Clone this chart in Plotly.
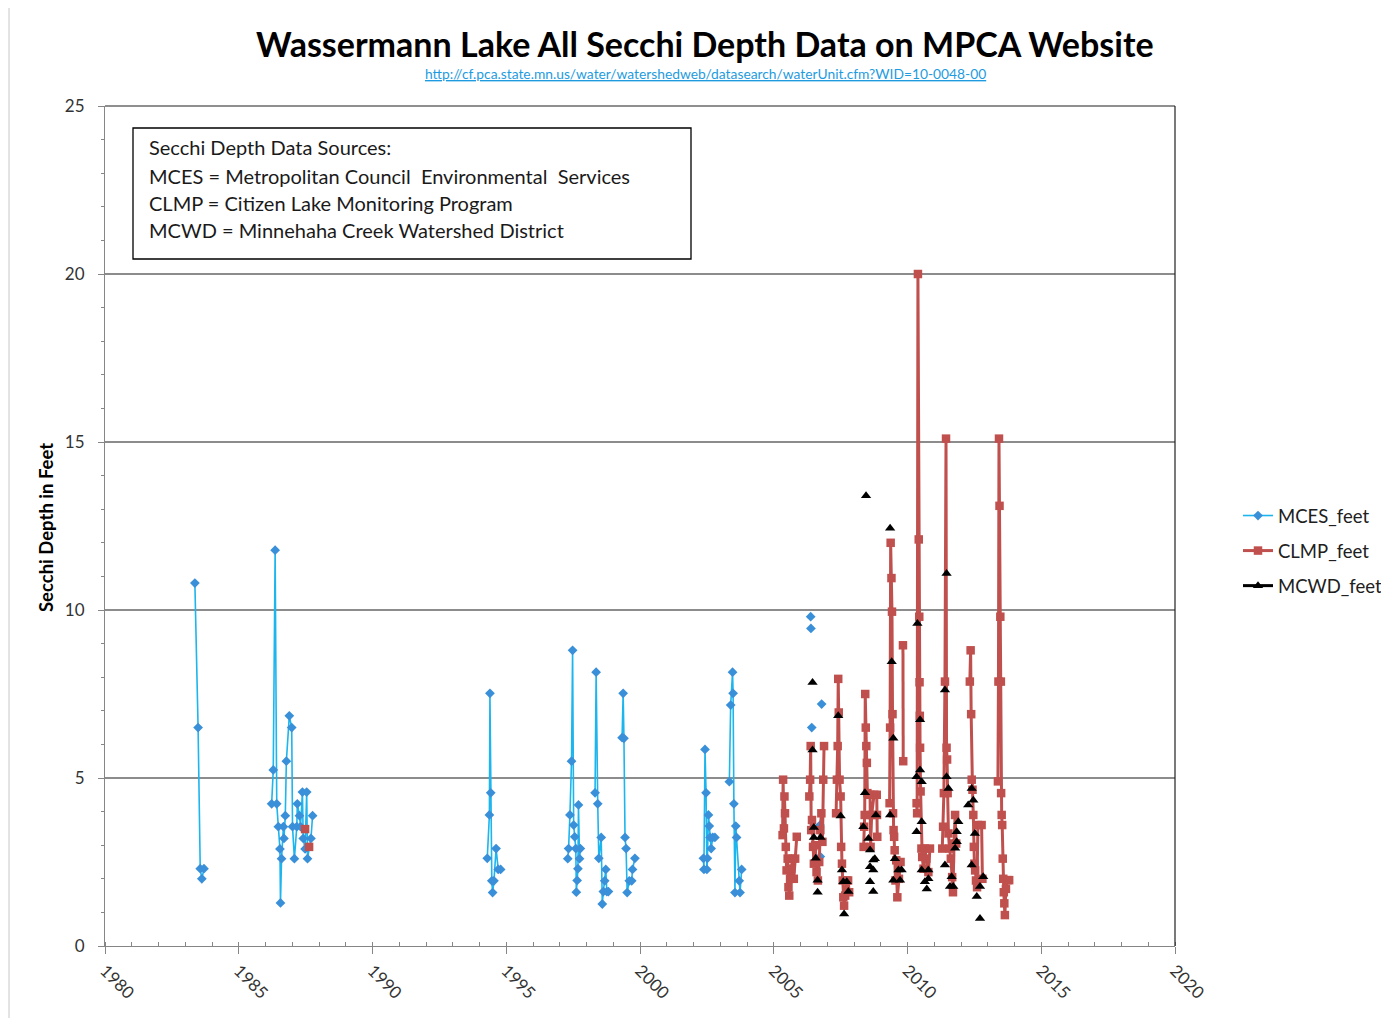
import plotly.graph_objects as go

# ---------------- data (decimal years, Secchi depth in feet) ----------------
# None marks a break in the series (blank rows in the source sheet)
mces_year = [
    1983.36, 1983.48, 1983.56, 1983.62, 1983.70, None,
    1986.23, 1986.29, 1986.36, 1986.42, 1986.48, 1986.54, 1986.56, 1986.60, 1986.67, 1986.69,
    1986.74, 1986.78, 1986.89, 1986.98, 1987.01, 1987.08, 1987.17, 1987.19, 1987.27, 1987.31,
    1987.38, 1987.41, 1987.48, 1987.54, 1987.57, 1987.70, 1987.76, None,
    1994.29, 1994.37, 1994.39, 1994.42, 1994.46, 1994.49, 1994.54, 1994.62, 1994.70, 1994.79, None,
    1997.30, 1997.33, 1997.38, 1997.44, 1997.48, 1997.52, 1997.56, 1997.60, 1997.62, 1997.65,
    1997.68, 1997.70, 1997.74, 1997.77, None,
    1998.32, 1998.36, 1998.42, 1998.46, 1998.55, 1998.59, 1998.63, 1998.68, 1998.72, 1998.76, 1998.82, None,
    1999.33, 1999.37, 1999.40, 1999.44, 1999.48, 1999.52, 1999.60, 1999.69, 1999.72, 1999.81, None,
    2002.37, 2002.39, 2002.43, 2002.47, 2002.50, 2002.52, 2002.56, 2002.59, 2002.62, 2002.66, 2002.72, 2002.80, None,
    2003.34, 2003.39, 2003.46, 2003.48, 2003.51, 2003.55, 2003.58, 2003.61, 2003.71, 2003.74, 2003.80, None,
    2006.38, None, 2006.39, None, 2006.42, None, 2006.79, None, 2006.73, None, 2006.74,
]
mces_depth = [
    10.8, 6.5, 2.3, 2.0, 2.3, None,
    4.23, 5.24, 11.78, 4.23, 3.55, 2.89, 1.28, 2.6, 3.55, 3.2,
    3.88, 5.5, 6.85, 6.5, 3.55, 2.6, 3.55, 4.23, 3.88, 3.55,
    4.58, 3.2, 2.89, 4.58, 2.6, 3.2, 3.88, None,
    2.61, 3.9, 7.52, 4.56, 1.94, 1.59, 1.94, 2.9, 2.28, 2.28, None,
    2.6, 2.9, 3.9, 5.5, 8.8, 3.6, 3.25, 2.9, 1.6, 1.95,
    2.3, 4.2, 2.6, 2.9, None,
    4.56, 8.15, 4.23, 2.61, 3.23, 1.25, 1.62, 1.94, 2.28, 1.62, 1.62, None,
    6.2, 7.52, 6.18, 3.23, 2.9, 1.59, 1.94, 1.94, 2.28, 2.61, None,
    2.61, 2.28, 5.85, 4.56, 2.28, 2.61, 3.9, 3.57, 3.23, 2.9, 3.23, 3.23, None,
    4.89, 7.17, 8.15, 7.52, 4.23, 1.59, 3.57, 3.23, 1.94, 1.59, 2.28, None,
    9.8, None, 9.45, None, 6.5, None, 7.2, None, 3.6, None, 2.66,
]

clmp_year = [
    1987.48, None, 1987.63, None,
    2005.33, 2005.35, 2005.38, 2005.40, 2005.42, 2005.45, 2005.48, 2005.52, 2005.55, 2005.58,
    2005.61, 2005.65, 2005.70, 2005.75, 2005.80, 2005.86, None,
    2006.33, 2006.36, 2006.38, 2006.40, 2006.43, 2006.47, 2006.50, 2006.55, 2006.60, 2006.65,
    2006.70, 2006.74, 2006.78, 2006.82, 2006.85, 2006.88, None,
    2007.33, 2007.36, 2007.39, 2007.41, 2007.43, 2007.46, 2007.50, 2007.52, 2007.55, 2007.58,
    2007.60, 2007.63, 2007.67, 2007.72, 2007.78, 2007.82, None,
    2008.36, 2008.38, 2008.40, 2008.42, 2008.44, 2008.46, 2008.48, 2008.50, 2008.60, 2008.62,
    2008.66, 2008.75, 2008.85, 2008.86, 2008.87, None,
    2009.33, 2009.35, 2009.37, 2009.40, 2009.42, 2009.44, 2009.46, 2009.48, 2009.50, 2009.52,
    2009.55, 2009.58, 2009.62, 2009.68, 2009.74, None, 2009.83, 2009.84, None,
    2010.34, 2010.36, 2010.39, 2010.42, 2010.44, 2010.45, 2010.46, 2010.47, 2010.49, 2010.52,
    2010.55, 2010.60, 2010.65, 2010.70, 2010.78, 2010.84, None,
    2011.30, 2011.33, 2011.36, 2011.40, 2011.44, 2011.46, 2011.48, 2011.50, 2011.53, 2011.57,
    2011.62, 2011.67, 2011.70, 2011.74, 2011.78, 2011.82, None,
    2012.33, 2012.36, 2012.38, 2012.40, 2012.43, 2012.46, 2012.48, 2012.50, 2012.53, 2012.56,
    2012.60, 2012.63, 2012.77, 2012.80, None,
    2013.38, 2013.40, 2013.42, 2013.44, 2013.47, 2013.49, 2013.50, 2013.52, 2013.54, 2013.56,
    2013.58, 2013.60, 2013.62, 2013.64, 2013.68, 2013.74, 2013.80,
]
clmp_depth = [
    3.48, None, 2.95, None,
    3.3, 4.95, 3.5, 4.45, 3.95, 2.95, 2.25, 2.6, 1.75, 1.5,
    2.0, 2.3, 2.6, 2.0, 2.6, 3.25, None,
    4.45, 4.95, 5.95, 3.45, 3.75, 2.95, 2.45, 3.0, 2.2, 1.95,
    2.5, 3.45, 3.95, 3.1, 4.95, 5.95, None,
    3.95, 4.95, 5.95, 7.95, 6.95, 4.95, 4.45, 2.95, 2.45, 1.95,
    1.45, 1.2, 1.5, 1.95, 1.95, 1.6, None,
    2.95, 3.55, 3.9, 7.5, 6.5, 5.95, 5.45, 4.55, 4.5, 2.95,
    3.9, 4.5, 4.5, 3.9, 3.25, None,
    4.25, 6.5, 12.0, 10.95, 9.95, 6.9, 3.95, 3.45, 3.25, 2.85,
    1.95, 2.55, 1.45, 2.0, 2.5, None, 8.95, 5.5, None,
    4.25, 3.95, 20.0, 12.1, 9.8, 7.85, 6.85, 5.9, 4.6, 2.9,
    2.65, 2.3, 2.9, 2.6, 2.2, 2.9, None,
    2.9, 3.55, 4.55, 7.87, 15.1, 5.9, 5.55, 4.55, 3.35, 2.9,
    2.6, 2.05, 1.6, 3.05, 3.9, 3.05, None,
    7.87, 8.8, 6.9, 4.95, 4.65, 3.9, 2.95, 2.45, 2.25, 1.95,
    1.75, 3.6, 3.6, 2.0, None,
    4.9, 7.87, 15.1, 13.1, 9.8, 7.87, 4.55, 3.9, 3.6, 2.6,
    2.0, 1.6, 1.27, 0.92, 1.7, 1.96, 1.96,
]

mcwd_year = [
    2006.45, 2006.45, 2006.50, 2006.50, 2006.75, 2006.57, 2006.64, 2006.64,
    2007.41, 2007.50, 2007.55, 2007.60, 2007.73, 2007.79, 2007.63,
    2008.45, 2008.35, 2008.41, 2008.82, 2008.54, 2008.60, 2008.72, 2008.78, 2008.60, 2008.72, 2008.60, 2008.72,
    2009.35, 2009.41, 2009.47, 2009.35, 2009.53, 2009.66, 2009.78, 2009.47, 2009.72,
    2010.37, 2010.47, 2010.47, 2010.34, 2010.53, 2010.53, 2010.34, 2010.53, 2010.78, 2010.65, 2010.72, 2010.78,
    2011.46, 2011.40, 2011.46, 2011.53, 2011.90, 2011.84, 2011.84, 2011.78, 2011.40, 2011.65, 2011.71, 2011.59,
    2012.40, 2012.46, 2012.27, 2012.52, 2012.40, 2012.83, 2012.71, 2012.59, 2012.71,
]
mcwd_depth = [
    7.84, 5.83, 3.53, 3.23, 3.23, 2.61, 1.96, 1.6,
    6.85, 3.87, 2.26, 1.91, 1.91, 1.62, 0.95,
    13.4, 3.55, 4.56, 3.9, 3.2, 2.86, 2.56, 2.6, 2.36, 2.26, 1.91, 1.62,
    12.43, 8.46, 6.18, 3.9, 2.6, 2.26, 2.26, 1.96, 1.96,
    9.6, 6.73, 5.24, 5.04, 4.89, 3.7, 3.4, 2.26, 2.26, 1.91, 1.7, 2.0,
    11.09, 7.62, 5.04, 4.69, 3.7, 3.4, 3.1, 2.91, 2.41, 2.06, 1.77, 1.77,
    4.69, 4.34, 4.2, 3.35, 2.41, 2.06, 1.77, 1.47, 0.82,
]

x_ticks = [1980, 1985, 1990, 1995, 2000, 2005, 2010, 2015, 2020]
y_ticks = [0, 5, 10, 15, 20, 25]

title_text = "Wassermann Lake All Secchi Depth Data on MPCA Website"
url_text = "http://cf.pca.state.mn.us/water/watershedweb/datasearch/waterUnit.cfm?WID=10-0048-00"
box_lines = [
    "Secchi Depth Data Sources:",
    "MCES = Metropolitan Council  Environmental  Services",
    "CLMP = Citizen Lake Monitoring Program",
    "MCWD = Minnehaha Creek Watershed District",
]

# MCWD points are isolated (no connecting lines) -> interleave breaks
mcwd_x, mcwd_y = [], []
for xv, yv in zip(mcwd_year, mcwd_depth):
    mcwd_x += [xv, None]
    mcwd_y += [yv, None]

FONT = "Lato, Calibri, Carlito, sans-serif"

fig = go.Figure()
fig.add_trace(go.Scatter(
    x=mces_year, y=mces_depth, name="MCES_feet", mode="lines+markers",
    line=dict(color="#1CB5EE", width=1.6),
    marker=dict(symbol="diamond", size=7.5, color="#3A8FD9"),
    legendgroup="a", connectgaps=False))
fig.add_trace(go.Scatter(
    x=clmp_year, y=clmp_depth, name="CLMP_feet", mode="lines+markers",
    line=dict(color="#C0504D", width=3),
    marker=dict(symbol="square", size=8.5, color="#C0504D"),
    legendgroup="b", connectgaps=False))
fig.add_trace(go.Scatter(
    x=mcwd_x, y=mcwd_y, name="MCWD_feet", mode="lines+markers",
    line=dict(color="#000000", width=3),
    marker=dict(symbol="triangle-up", size=9, color="#000000"),
    legendgroup="c", connectgaps=False))

OFF = 8  # page body margin
W, H = 1389 - OFF, 1018 - OFF
L, R, T, B = 105 - OFF, 1175 - OFF, 106 - OFF, 946 - OFF
def px(xp):
    return (xp - OFF - L) / (R - L)
def py(yp):
    return (B - (yp - OFF)) / (B - T)
def cx(xp):
    return (xp - OFF) / W
def cy(yp):
    return 1 - (yp - OFF) / H

annotations = [
    dict(text="<b>" + title_text + "</b>", x=px(705), y=py(43), xref="paper", yref="paper",
         showarrow=False, xanchor="center", yanchor="middle",
         font=dict(family=FONT, size=34, color="#000000")),
    dict(text="<u>" + url_text + "</u>", x=px(705), y=py(74), xref="paper", yref="paper",
         showarrow=False, xanchor="center", yanchor="middle",
         font=dict(family=FONT, size=13.8, color="#1E9BE0")),
    dict(text="<b>Secchi Depth in Feet</b>", x=px(46), y=py(528), xref="paper", yref="paper",
         showarrow=False, xanchor="center", yanchor="middle", textangle=-90,
         font=dict(family=FONT, size=18.5, color="#000000")),
]
for line, ypix in zip(box_lines, [147, 176, 203, 230]):
    annotations.append(dict(text=line, x=px(147), y=py(ypix), xref="paper", yref="paper",
                            showarrow=False, xanchor="left", yanchor="middle",
                            font=dict(family=FONT, size=20, color="#1a1a1a")))

shapes = [
    dict(type="rect", xref="paper", yref="paper", x0=px(133), x1=px(691), y0=py(259), y1=py(128),
         line=dict(color="#000000", width=1.3), fillcolor="rgba(0,0,0,0)"),
    dict(type="line", xref="paper", yref="paper", x0=0, x1=1, y0=1, y1=1,
         line=dict(color="#202020", width=1.2)),
    dict(type="line", xref="paper", yref="paper", x0=1, x1=1, y0=0, y1=1,
         line=dict(color="#202020", width=1.2)),
    dict(type="line", xref="paper", yref="paper", x0=px(9), x1=px(9), y0=py(0), y1=py(1018),
         line=dict(color="#C8C8C8", width=1)),
]

fig.update_layout(
    template="none",
    width=W, height=H, autosize=False,
    margin=dict(l=L, r=W - R, t=T, b=H - B, pad=0, autoexpand=False),
    paper_bgcolor="white", plot_bgcolor="white",
    font=dict(family=FONT, size=16, color="#303030"),
    showlegend=True,
    legend=dict(xref="container", yref="container", x=cx(1238), y=cy(497),
                xanchor="left", yanchor="top",
                font=dict(family=FONT, size=18.5, color="#202020"),
                bgcolor="rgba(0,0,0,0)", tracegroupgap=8, traceorder="grouped"),
    annotations=annotations,
    shapes=shapes,
    xaxis=dict(range=[1980, 2020], tickmode="array", tickvals=x_ticks,
               ticktext=[str(v) for v in x_ticks], tickangle=45,
               showgrid=False, zeroline=False, showline=True, linecolor="#868686", linewidth=1.2,
               ticks="outside", ticklen=7, tickcolor="#868686", tickwidth=1.2,
               minor=dict(dtick=1, tick0=1980, ticks="inside", ticklen=4, tickcolor="#868686",
                          tickwidth=1.2, showgrid=False),
               tickfont=dict(family=FONT, size=17, color="#333333"), automargin=False),
    yaxis=dict(range=[0, 25], tickmode="array", tickvals=y_ticks,
               ticktext=[str(v) for v in y_ticks],
               showgrid=True, gridcolor="#8C8C8C", gridwidth=1.5, zeroline=False,
               showline=True, linecolor="#868686", linewidth=1.2,
               ticks="outside", ticklen=6, tickcolor="#868686", tickwidth=1.2,
               ticklabelstandoff=10,
               minor=dict(dtick=1, tick0=0, ticks="outside", ticklen=3, tickcolor="#868686",
                          tickwidth=1.2, showgrid=False),
               tickfont=dict(family=FONT, size=17, color="#333333"), automargin=False),
)

fig.write_html("out.html")
